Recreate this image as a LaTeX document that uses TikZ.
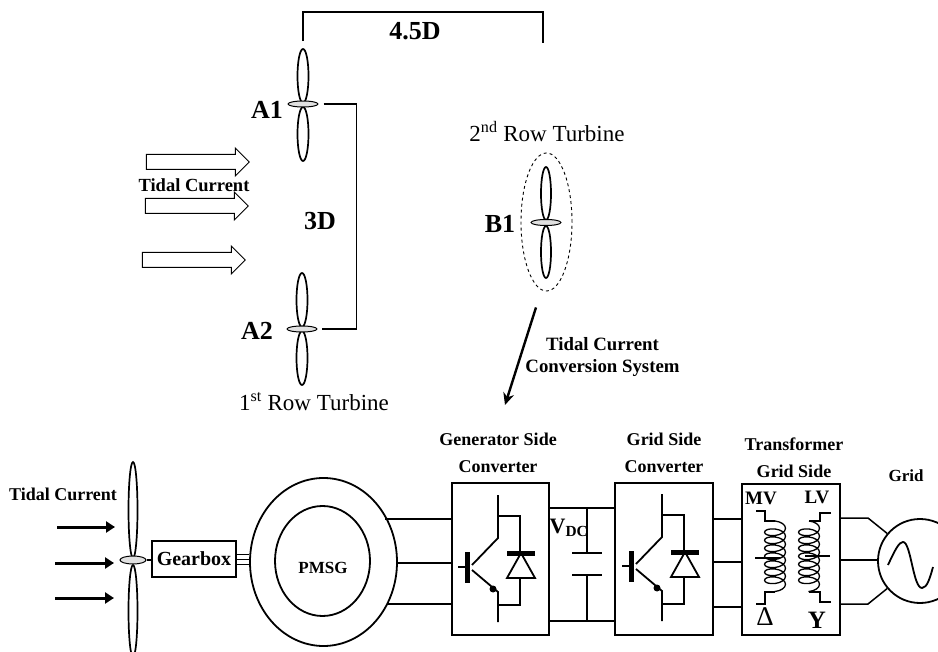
\documentclass[tikz,border=0pt]{standalone}
\usepackage{fontspec}
\setmainfont{Liberation Serif}
\usetikzlibrary{calc}
\usetikzlibrary{arrows.meta}
\usetikzlibrary{shapes.geometric}
\usetikzlibrary{shapes.arrows}
\usetikzlibrary{decorations.pathmorphing}

\tikzset{
  igbt/.pic={
    \draw[line width=1.8pt] (46,12) -- (46,55) -- (20,82);
    \draw[line width=1.8pt] (20,87) -- (46,109) -- (46,139);
    \draw[line width=1.8pt] (46,33) -- (68,33) -- (68,70);
    \draw[line width=1.8pt] (68,95) -- (68,122) -- (46,122);
    \draw[line width=1.8pt] (6,84) -- (15,84);
    \draw[line width=5pt] (15,69) -- (15,100);
    \draw[line width=5pt] (55,70) -- (83,70);
    \draw[line width=1.8pt] (69,70) -- (55,95) -- (83,95) -- cycle;
    \fill (41,106) circle (3.5);
  }
}

\begin{document}
\begin{tikzpicture}[x=1pt, y=-1pt, line width=1.5pt, font=\fontsize{18}{20}\selectfont\bfseries,
                    blade/.style={ellipse,draw,fill=white,line width=1.7pt,inner sep=0pt,minimum width=11pt,minimum height=54pt},
                    hub/.style={ellipse,draw,fill=black!12,line width=1pt,inner sep=0pt,minimum width=30pt,minimum height=6pt},
                    current/.style={single arrow,draw,line width=1pt,inner sep=7pt,minimum height=103pt,minimum width=27pt,single arrow head extend=6.5pt},
                    flow/.style={line width=3pt,-{Triangle[length=9pt,width=11pt]}},
                    bracket/.style={line width=1.8pt},
                    block/.style={rectangle,draw,inner sep=0pt},
                    plain/.style={inner sep=0pt,font=\fontsize{23}{25}\selectfont},
                    big/.style={inner sep=0pt,font=\fontsize{26}{28}\selectfont\bfseries},
                    winding/.style={line width=1.3pt,decorate,decoration={coil,aspect=0.5,segment length=8pt,amplitude=10.5pt}}]
  \useasboundingbox (0,0) rectangle (938,652);
  \clip (0,0) rectangle (938,652);

  % first row
  \node[blade] (a1top) at (303,76) {};
  \node[blade] (a1bot) at (303,134) {};
  \node[hub] (a1hub) at (303,104) {};
  \node[blade] (a2top) at (302,300) {};
  \node[blade] (a2bot) at (302,358) {};
  \node[hub] (a2hub) at (302,329) {};
  \node[big] (a1) at (267,110) {A1};
  \node[big] (a2) at (257,331) {A2};
  \node[plain] (row1) at (314,402) {1\textsuperscript{st} Row Turbine};

  % second row
  \node[ellipse,draw,dashed,line width=0.9pt,inner sep=0pt,minimum width=51pt,minimum height=138pt] (b1ring) at (546.5,222) {};
  \node[blade,minimum width=10pt,minimum height=53pt] (b1top) at (546,193.5) {};
  \node[blade,minimum width=10pt,minimum height=52pt] (b1bot) at (546,252) {};
  \node[hub] (b1hub) at (546,222.5) {};
  \node[big] (b1) at (500,224) {B1};
  \node[plain] (row2) at (547,132) {2\textsuperscript{nd} Row Turbine};

  % spacing
  \coordinate (span) at (543,43);
  \draw[bracket] ([yshift=7pt]a1top.north) -- ++(0,-29) -| (span);
  \draw[bracket] ([xshift=5pt]a1hub.east) -- ++(33,0) |- ([xshift=4pt]a2hub.east);
  \node[big] (dist45) at (415,31) {4.5D};
  \node[big] (dist3) at (320,221) {3D};

  % incoming current
  \node[current] (cur1) at (194,162) {};
  \node[current] (cur2) at (193,206) {};
  \node[current] (cur3) at (190,260) {};
  \node[inner sep=0pt,font=\fontsize{18.5}{20}\selectfont\bfseries] (curlabel) at (194,185) {Tidal Current};

  % link to the system below
  \coordinate (linkend) at (505,405);
  \draw[line width=2.4pt,-{Stealth[length=12pt,width=11pt]}] ([xshift=-10.5pt,yshift=-16pt]b1ring.south) -- (linkend);
  \node[align=center,inner sep=0pt,font=\fontsize{18.8}{22.5}\selectfont\bfseries] (syslabel) at (602.5,357) {Tidal Current\\Conversion System};

  % conversion system
  \node[blade,minimum width=9pt,minimum height=96pt] (rotortop) at (133,510) {};
  \node[blade,minimum width=9pt,minimum height=92pt] (rotorbot) at (133,611) {};
  \node[hub,minimum width=26pt,minimum height=8pt] (rotor) at (133,560) {};
  \node[inner sep=0pt] (tidal) at (63,494) {Tidal Current};
  \coordinate (flow1) at (57,527);
  \coordinate (flow2) at (55,563);
  \coordinate (flow3) at (55,598);
  \draw[flow] (flow1) -- ++(58,0);
  \draw[flow] (flow2) -- ++(59,0);
  \draw[flow] (flow3) -- ++(59,0);

  \node[block,minimum width=84pt,minimum height=36pt,font=\fontsize{20}{22}\selectfont\bfseries] (gearbox) at (194,559) {Gearbox};
  \node[ellipse,draw,line width=1.8pt,inner sep=0pt,minimum width=147pt,minimum height=168pt] (pmsgout) at (323.5,562) {};
  \node[ellipse,draw,line width=1.8pt,inner sep=0pt,minimum width=95pt,minimum height=110pt] (pmsg) at (322.5,561) {};
  \node[inner sep=0pt,font=\fontsize{17}{19}\selectfont\bfseries] (pmsglabel) at (323,568) {PMSG};
  \draw (rotor.east) -- (gearbox.west |- rotor.east);
  \draw[line width=1pt] ([yshift=5pt]gearbox.east) -- ([yshift=5pt]gearbox.east -| pmsgout.west);
  \draw[line width=1pt] (gearbox.east) -- (gearbox.east -| pmsgout.west);
  \draw[line width=1pt] ([yshift=-5pt]gearbox.east) -- ([yshift=-5pt]gearbox.east -| pmsgout.west);

  \node[block,minimum width=97pt,minimum height=152pt] (gen) at (500.5,559) {};
  \node[block,minimum width=98pt,minimum height=152pt] (grid) at (664,559) {};
  \node[block,minimum width=98pt,minimum height=151pt] (trans) at (791,559.5) {};
  \pic at (452,483) {igbt};
  \pic at (616,482) {igbt};
  \node[align=center,inner sep=0pt,font=\fontsize{18}{27}\selectfont\bfseries] (genlabel) at (498,453) {Generator Side\\Converter};
  \node[align=center,inner sep=0pt,font=\fontsize{18}{27}\selectfont\bfseries] (gridlabel) at (664,453) {Grid Side\\Converter};
  \node[align=center,inner sep=0pt,font=\fontsize{18}{27}\selectfont\bfseries] (translabel) at (794,458) {Transformer\\Grid Side};
  \node[inner sep=0pt,font=\fontsize{17}{19}\selectfont\bfseries] (gridlabel2) at (906,476) {Grid};

  % phases out of the generator
  \coordinate (ph1) at (385,519);
  \coordinate (ph2) at (397,563);
  \coordinate (ph3) at (387,604);
  \draw (ph1) -- (ph1 -| gen.west);
  \draw (ph2) -- (ph2 -| gen.west);
  \draw (ph3) -- (ph3 -| gen.west);

  % dc link
  \coordinate (dctop) at (587,508);
  \coordinate (dcbot) at (587,621);
  \coordinate (capa) at (587,553);
  \coordinate (capb) at (587,575);
  \draw (dctop -| gen.east) -- (dctop -| grid.west);
  \draw (dcbot -| gen.east) -- (dcbot -| grid.west);
  \draw (dctop) -- (capa);
  \draw (capb) -- (dcbot);
  \draw ([xshift=-15pt]capa) -- ([xshift=15pt]capa);
  \draw ([xshift=-15pt]capb) -- ([xshift=15pt]capb);
  \node[inner sep=0pt,font=\fontsize{22}{24}\selectfont\bfseries] (vdc) at (569,528) {V\textsubscript{DC}};

  % grid side converter to transformer
  \coordinate (gr1) at (713,519);
  \coordinate (gr2) at (713,562);
  \coordinate (gr3) at (713,607);
  \draw (gr1) -- (gr1 -| trans.west);
  \draw (gr2) -- (gr2 -| trans.west);
  \draw (gr3) -- (gr3 -| trans.west);

  % transformer
  \node[inner sep=0pt,font=\fontsize{19}{21}\selectfont\bfseries] (mv) at (761,498) {MV};
  \node[inner sep=0pt,font=\fontsize{19}{21}\selectfont\bfseries] (lv) at (817,497) {LV};
  \node[inner sep=0pt,font=\fontsize{27}{29}\selectfont] (delta) at (765,617) {Δ};
  \node[inner sep=0pt,font=\fontsize{25}{27}\selectfont\bfseries] (wye) at (817,620) {Y};
  \coordinate (mva) at (775,521);
  \coordinate (mvb) at (775,592);
  \coordinate (lva) at (809,521);
  \coordinate (lvb) at (809,592);
  \draw[winding] (mva) -- (mvb);
  \draw[winding] (lva) -- (lvb);
  \draw[line width=1.3pt] (756,511) -- (765,511) -- (765,521) -- (mva);
  \draw[line width=1.3pt] (756,604) -- (765,604) -- (765,592) -- (mvb);
  \draw[line width=1.3pt] (831,513) -- (820,513) -- (820,521) -- (lva);
  \draw[line width=1.3pt] (831,602) -- (820,602) -- (820,592) -- (lvb);
  \draw[line width=1.3pt] (755,558) -- (780,558);
  \draw[line width=1.3pt] (805,556) -- (830,556);

  % grid source
  \node[circle,draw,fill=white,line width=1.8pt,inner sep=0pt,minimum size=84pt] (source) at (920,561) {};
  \coordinate (out1) at (840,518);
  \coordinate (out2) at (840,560);
  \coordinate (out3) at (840,604);
  \draw (out1) -- (868,518) -- (source.140);
  \draw (out2) -- (source.west |- out2);
  \draw (out3) -- (868,604) -- (source.220);
  \draw[line width=1.8pt] (888,565) .. controls (895,550) and (899,542) .. (903,542)
                           .. controls (911,542) and (913,588) .. (922,588)
                           .. controls (927,588) and (930,578) .. (933,567);
\end{tikzpicture}
\end{document}
